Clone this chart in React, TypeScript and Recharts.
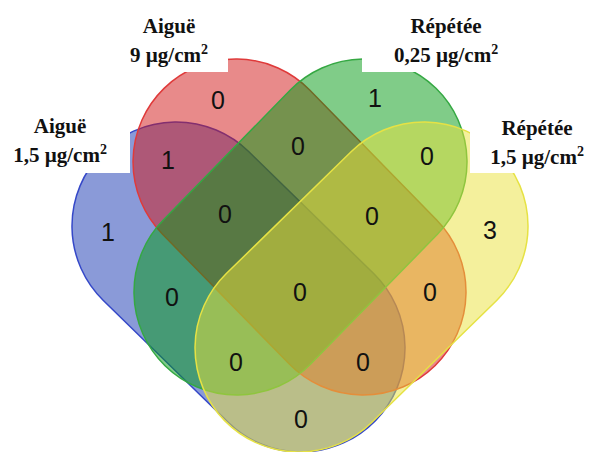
import React from "react";
import { ScatterChart, Scatter, XAxis, YAxis } from "recharts";

// the four sets, in drawing order
const setTitle = ["Aiguë", "Aiguë", "Répétée", "Répétée"];
const setDose = ["1,5 µg/cm", "9 µg/cm", "0,25 µg/cm", "1,5 µg/cm"];
const titleX = [60, 169, 446, 537];
const titleY = [133, 33, 33, 135];

// each set is a stadium: two cap centres and a radius (diagram units)
const startX = [176, 236, 364, 424];
const startY = [226, 162, 162, 226];
const endX = [301, 363, 237, 299];
const endY = [348, 292, 292, 348];
const radius = [104, 103, 103, 104];
const fills = ["#1535b1", "#d11515", "#019911", "#e9e139"];
const strokes = ["#3548c8", "#df3a3a", "#35a843", "#e6e244"];

// white boxes behind the set titles
const boxX1 = [0, 100, 362, 470];
const boxX2 = [130, 228, 490, 589];
const boxY1 = [105, 0, 0, 105];
const boxY2 = [173, 72, 72, 173];

// region counts
const counts = [1, 0, 1, 3, 1, 0, 0, 0, 0, 0, 0, 0, 0, 0, 0];
const countX = [108, 218, 375, 490, 168, 298, 427, 225, 372, 300, 172, 430, 236, 363, 301];
const countY = [232, 100, 98, 230, 160, 146, 156, 214, 216, 292, 297, 292, 362, 362, 419];

const Pill = (props: any) => {
  const { points, r, dataLen, tint, edge } = props;
  if (!points || points.length < 2) return <g />;
  const [a, b] = points;
  const dx = b.x - a.x;
  const dy = b.y - a.y;
  const len = Math.hypot(dx, dy);
  const rr = (r * len) / dataLen;
  const nx = (-dy / len) * rr;
  const ny = (dx / len) * rr;
  const d =
    `M${a.x + nx},${a.y + ny} L${b.x + nx},${b.y + ny} ` +
    `A${rr},${rr} 0 0 0 ${b.x - nx},${b.y - ny} ` +
    `L${a.x - nx},${a.y - ny} A${rr},${rr} 0 0 0 ${a.x + nx},${a.y + ny} Z`;
  return <path d={d} fill={tint} fillOpacity={0.5} stroke={edge} strokeWidth={1.5} />;
};

const WhiteBox = (props: any) => {
  const { points } = props;
  if (!points || points.length < 2) return <g />;
  const [a, b] = points;
  return (
    <rect
      x={Math.min(a.x, b.x)}
      y={Math.min(a.y, b.y)}
      width={Math.abs(b.x - a.x)}
      height={Math.abs(b.y - a.y)}
      fill="#ffffff"
      stroke="none"
    />
  );
};

const SetTitle = (props: any) => {
  const { cx, cy, payload } = props;
  return (
    <g fontFamily="'Liberation Serif', 'Times New Roman', serif" fontWeight="bold" fontSize={21} fill="#111">
      <text x={cx} y={cy} textAnchor="middle">
        {payload.title}
      </text>
      <text x={cx} y={cy + 29} textAnchor="middle">
        {payload.dose}
        <tspan dy={-8} fontSize={14}>
          2
        </tspan>
      </text>
    </g>
  );
};

const CountText = (props: any) => {
  const { cx, cy, payload } = props;
  return (
    <text
      x={cx}
      y={cy}
      textAnchor="middle"
      dominantBaseline="central"
      fontFamily="'Liberation Sans', Arial, sans-serif"
      fontSize={25}
      fill="#111"
    >
      {payload.count}
    </text>
  );
};

const Empty = () => <g />;

const titleData = setTitle.map((t, i) => ({ x: titleX[i], y: titleY[i], title: t, dose: setDose[i] }));
const countData = counts.map((c, i) => ({ x: countX[i], y: countY[i], count: c }));

export default function App() {
  return (
    <div style={{ position: "absolute", left: 0, top: 0, width: 589, height: 452, background: "#fff" }}>
      <ScatterChart width={589} height={452} margin={{ top: 0, right: 0, bottom: 0, left: 0 }}>
        <XAxis type="number" dataKey="x" domain={[0, 589]} allowDataOverflow hide />
        <YAxis type="number" dataKey="y" domain={[0, 452]} allowDataOverflow reversed hide />
        {startX.map((sx, i) => (
          <Scatter
            key={`set-${i}`}
            data={[
              { x: sx, y: startY[i] },
              { x: endX[i], y: endY[i] },
            ]}
            line={
              <Pill
                r={radius[i]}
                dataLen={Math.hypot(endX[i] - sx, endY[i] - startY[i])}
                tint={fills[i]}
                edge={strokes[i]}
              />
            }
            shape={Empty}
            isAnimationActive={false}
          />
        ))}
        {boxX1.map((bx, i) => (
          <Scatter
            key={`box-${i}`}
            data={[
              { x: bx, y: boxY1[i] },
              { x: boxX2[i], y: boxY2[i] },
            ]}
            line={<WhiteBox />}
            shape={Empty}
            isAnimationActive={false}
          />
        ))}
        <Scatter data={titleData} shape={SetTitle} isAnimationActive={false} />
        <Scatter data={countData} shape={CountText} isAnimationActive={false} />
      </ScatterChart>
    </div>
  );
}
